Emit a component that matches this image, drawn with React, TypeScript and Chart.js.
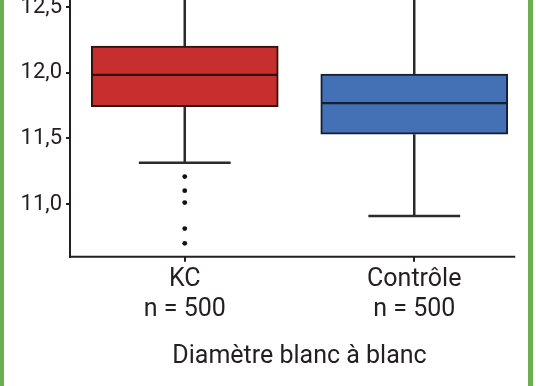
import React, { useEffect, useRef } from 'react';
import { Chart, registerables } from 'chart.js';

Chart.register(...registerables);

// ---- data ----
const CATEGORIES = ['KC', 'Contrôle'];
const N_LABELS = ['n = 500', 'n = 500'];
const Q1 = [11.742, 11.532];
const MEDIAN = [11.983, 11.768];
const Q3 = [12.204, 11.989];
const WHISKER_LOW = [11.315, 10.909];
const WHISKER_HIGH = [12.9, 12.9];
const KC_OUTLIERS = [11.209, 11.102, 11.011, 10.813, 10.701];
const Y_TICKS = [11.0, 11.5, 12.0, 12.5];
const AXIS_TITLE = 'Diamètre blanc à blanc';

// ---- style ----
const FILL = ['#c62f2d', '#4471b6'];
const EDGE = ['#2e1210', '#122034'];
const INK = '#231f20';
const GREEN = '#6cae50';
const CAP_HALF = 0.2;
const X_AXIS_END = 1.44;

const boxPlugin = {
  id: 'boxWhiskers',
  afterDatasetsDraw(chart: any) {
    const { ctx, chartArea, scales } = chart;
    const x = scales.x;
    const y = scales.y;
    const meta = chart.getDatasetMeta(0);
    ctx.save();
    ctx.beginPath();
    ctx.rect(chartArea.left, chartArea.top, chartArea.right - chartArea.left, chartArea.bottom - chartArea.top);
    ctx.clip();
    CATEGORIES.forEach((_, i) => {
      const cx = x.getPixelForValue(i);
      const bar = meta.data[i];
      const half = bar.width / 2;
      // whiskers
      ctx.strokeStyle = '#2b2b2b';
      ctx.lineWidth = 2.5;
      ctx.beginPath();
      ctx.moveTo(cx, y.getPixelForValue(Q3[i]));
      ctx.lineTo(cx, y.getPixelForValue(WHISKER_HIGH[i]));
      ctx.moveTo(cx, y.getPixelForValue(Q1[i]));
      ctx.lineTo(cx, y.getPixelForValue(WHISKER_LOW[i]));
      ctx.stroke();
      // caps
      ctx.beginPath();
      const capL = x.getPixelForValue(i - CAP_HALF);
      const capR = x.getPixelForValue(i + CAP_HALF);
      [WHISKER_LOW[i], WHISKER_HIGH[i]].forEach((v) => {
        const py = y.getPixelForValue(v);
        ctx.moveTo(capL, py);
        ctx.lineTo(capR, py);
      });
      ctx.stroke();
      // median
      ctx.strokeStyle = EDGE[i];
      ctx.lineWidth = 2.2;
      ctx.beginPath();
      const my = y.getPixelForValue(MEDIAN[i]);
      ctx.moveTo(bar.x - half + 1, my);
      ctx.lineTo(bar.x + half - 1, my);
      ctx.stroke();
    });
    ctx.restore();
    // x axis line
    ctx.save();
    ctx.strokeStyle = INK;
    ctx.lineWidth = 2;
    ctx.beginPath();
    ctx.moveTo(chartArea.left - 1, chartArea.bottom);
    ctx.lineTo(x.getPixelForValue(X_AXIS_END), chartArea.bottom);
    ctx.stroke();
    ctx.restore();
  },
};

export default function App() {
  const ref = useRef<HTMLCanvasElement | null>(null);
  useEffect(() => {
    if (!ref.current) return;
    const chart = new Chart(ref.current, {
      type: 'bar',
      data: {
        datasets: [
          {
            type: 'bar',
            data: CATEGORIES.map((_, i) => ({ x: i, y: [Q1[i], Q3[i]] })) as any,
            backgroundColor: FILL,
            borderColor: EDGE,
            borderWidth: 2,
            borderSkipped: false,
            barThickness: 187,
            order: 2,
          } as any,
          {
            type: 'line',
            data: KC_OUTLIERS.map((v) => ({ x: 0, y: v })) as any,
            showLine: false,
            pointRadius: 2.4,
            pointHoverRadius: 2.4,
            pointBackgroundColor: '#111',
            pointBorderWidth: 0,
            pointStyle: 'circle',
            order: 1,
          } as any,
        ],
      },
      options: {
        animation: false,
        responsive: false,
        layout: { autoPadding: false, padding: { left: 0, right: 7, top: 0, bottom: 0 } },
        plugins: { legend: { display: false }, tooltip: { enabled: false } },
        scales: {
          x: {
            type: 'linear',
            min: -0.5,
            max: 1.5,
            offset: false,
            afterBuildTicks: (s: any) => {
              s.ticks = CATEGORIES.map((_, i) => ({ value: i }));
            },
            afterFit: (s: any) => {
              s.height = 129.3;
              s.paddingLeft = 0;
              s.paddingRight = 0;
            },
            ticks: {
              callback: (_v: any, idx: number) => [CATEGORIES[idx], N_LABELS[idx]],
              font: { family: 'Roboto', size: 25, lineHeight: 1.2 },
              color: INK,
              padding: 3,
              maxRotation: 0,
              autoSkip: false,
            },
            grid: { offset: false, drawOnChartArea: false, drawTicks: true, tickLength: 5, color: INK, lineWidth: 2 },
            border: { display: false },
            title: {
              display: true,
              text: AXIS_TITLE,
              font: { family: 'Roboto', size: 25, lineHeight: 1.2 },
              color: INK,
              padding: { top: 0, bottom: 14 },
            },
          } as any,
          y: {
            type: 'linear',
            min: 10.599,
            max: 12.554,
            afterBuildTicks: (s: any) => {
              s.ticks = Y_TICKS.map((v) => ({ value: v }));
            },
            afterFit: (s: any) => {
              s.width = 70;
              s.paddingTop = 0;
              s.paddingBottom = 0;
            },
            ticks: {
              callback: (v: any) => Number(v).toFixed(1).replace('.', ','),
              font: { family: 'Roboto', size: 22 },
              color: INK,
              padding: 4,
            },
            grid: { drawOnChartArea: false, drawTicks: true, tickLength: 4, color: INK, lineWidth: 2 },
            border: { display: true, color: INK, width: 2 },
          } as any,
        },
      },
      plugins: [boxPlugin],
    });
    return () => chart.destroy();
  }, []);

  return (
    <div style={{ position: 'fixed', left: 0, top: 0, width: 536, height: 386, background: '#fff', overflow: 'hidden' }}>
      <canvas ref={ref} width={536} height={386} style={{ display: 'block' }} />
      <div style={{ position: 'absolute', left: 0, top: 0, width: 4, height: 386, background: GREEN }} />
      <div style={{ position: 'absolute', left: 528, top: 0, width: 5, height: 386, background: GREEN }} />
    </div>
  );
}
